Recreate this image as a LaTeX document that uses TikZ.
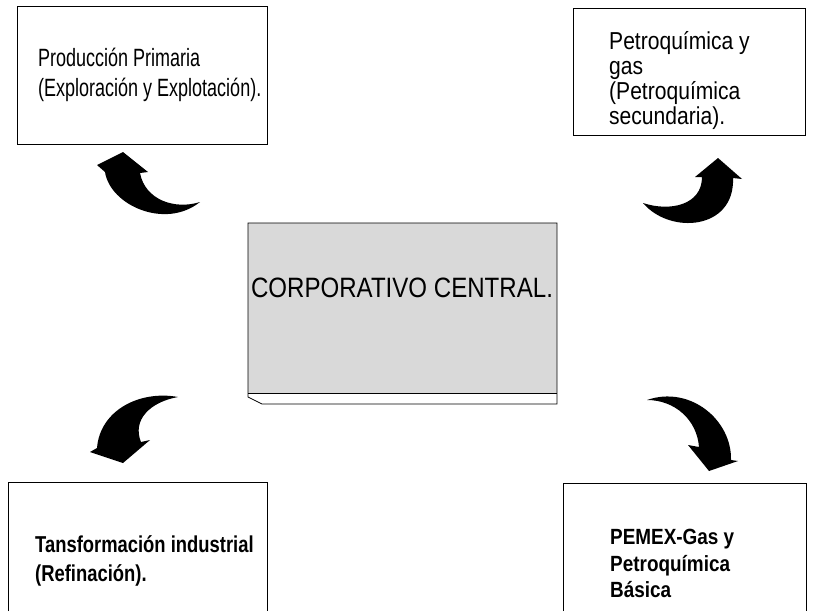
\documentclass[tikz,border=0pt]{standalone}
\usepackage{fontspec}
\setmainfont{Liberation Sans}
\newfontfamily\narrowfont{Liberation Sans}[FakeStretch=0.72]
\newfontfamily\condfont{Liberation Sans}[FakeStretch=0.86]
\newfontfamily\boldcondfont{Liberation Sans}[FakeStretch=0.8]
\tikzset{
  unitbox/.style={line width=.8pt},
  curlarrow/.style={fill=black},
  boxtext/.style={anchor=north west, inner sep=0pt, align=left},
}
\begin{document}
\begin{tikzpicture}[x=1pt,y=-1pt]
\useasboundingbox (0,0) rectangle (813,611);
% boxes
\draw[unitbox] (17,6) rectangle (267,144);
\draw[unitbox] (573,8) rectangle (805,135);
\draw[unitbox] (8,611) |- (267,482) -- (267,611);
\draw[unitbox] (563,611) |- (806,483) -- (806,611);
% central plate
\fill[black!15] (248,223) rectangle (557,393);
\draw[unitbox] (248,223) -- (557,223) -- (557,404) -- (262,404) -- (248,397) -- cycle;
\draw[unitbox] (248,393) -- (557,393);
\node[anchor=base, inner sep=0pt, font=\condfont\fontsize{28}{32}\selectfont] (central) at (402,297) {CORPORATIVO CENTRAL.};
% texts
\node[boxtext, font=\narrowfont\fontsize{25}{29.5}\selectfont] (primaria) at (38,48) {Producción Primaria\\(Exploración y Explotación).};
\node[boxtext, font=\condfont\fontsize{24.5}{25.2}\selectfont] (petroquimica) at (609,31) {Petroquímica y\\gas\\(Petroquímica\\secundaria).};
\node[boxtext, font=\boldcondfont\bfseries\fontsize{23}{29}\selectfont] (refinacion) at (35,535) {Tansformación industrial\\(Refinación).};
\node[boxtext, font=\condfont\bfseries\fontsize{22}{26.5}\selectfont] (pemexgas) at (610,529) {PEMEX-Gas y\\Petroquímica\\Básica};
% curved arrows
\fill[curlarrow] (200,202) .. controls (165,230) and (110,205) .. (105,172) -- (97,165) -- (123,152) -- (148,172) -- (140,173) .. controls (145,200) and (175,210) .. (200,202) -- cycle;
\fill[curlarrow] (643,203) .. controls (670,235) and (735,230) .. (733,178) -- (742,179) -- (718,158) -- (695,177) -- (702,177) .. controls (702,205) and (670,212) .. (643,203) -- cycle;
\fill[curlarrow] (178,397) .. controls (140,390) and (100,410) .. (97,448) -- (90,452) -- (123,463) -- (150,440) -- (141,442) .. controls (132,420) and (150,402) .. (178,397) -- cycle;
\fill[curlarrow] (647,400) .. controls (690,385) and (732,420) .. (731,460) -- (738,461) -- (709,471) -- (688,445) -- (699,447) .. controls (697,420) and (675,400) .. (647,400) -- cycle;
\end{tikzpicture}
\end{document}
